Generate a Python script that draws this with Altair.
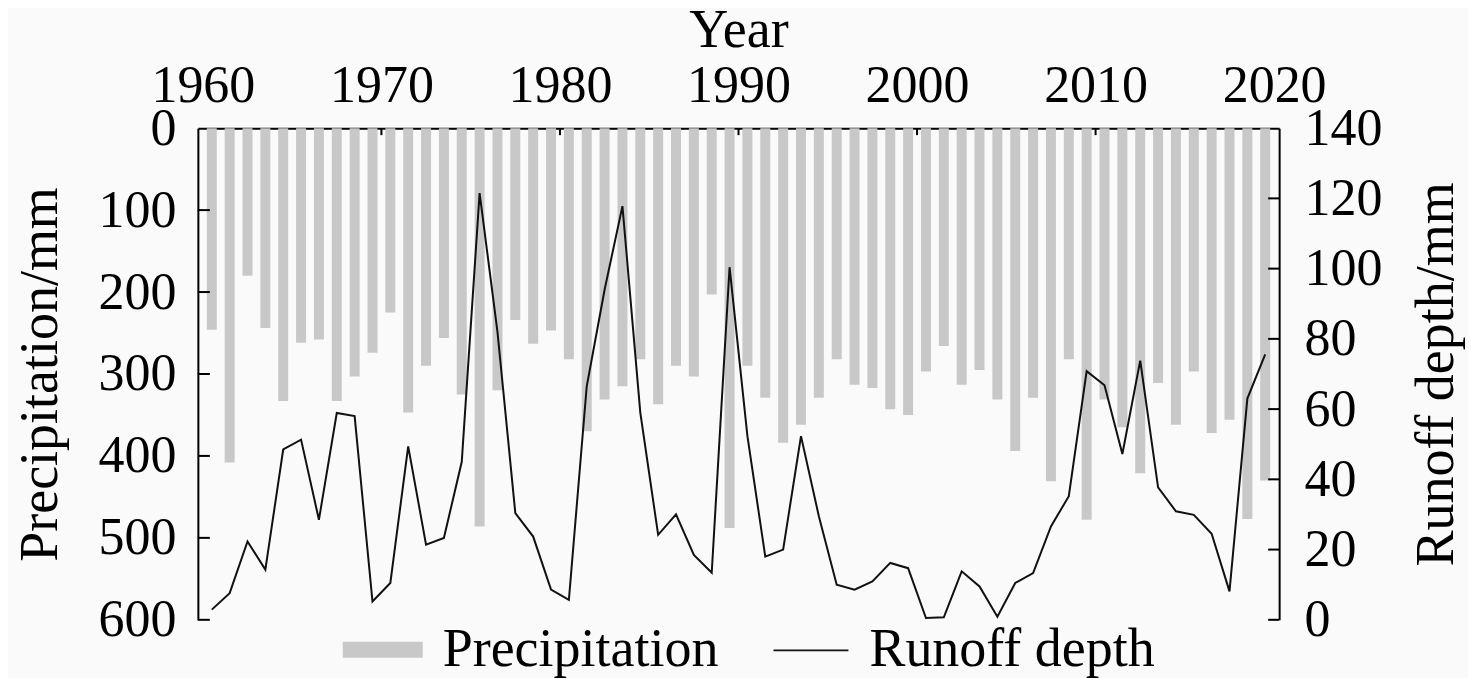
import altair as alt
import pandas as pd

years = list(range(1960, 2020))
precipitation = [246, 408, 180, 244, 333, 262, 258, 333, 303, 274,
                 225, 347, 290, 256, 325, 486, 320, 234, 263, 247,
                 282, 370, 331, 315, 282, 337, 290, 303, 203, 488,
                 290, 329, 384, 362, 329, 282, 313, 317, 343, 350,
                 297, 266, 313, 295, 331, 394, 329, 431, 282, 478,
                 331, 365, 421, 311, 362, 297, 372, 356, 477, 430]
runoff = [2.9, 7.6, 22.3, 14.3, 48.5, 51.3, 28.5, 58.9, 58.0, 5.2,
          10.5, 49.4, 21.4, 23.3, 45.0, 121.5, 82.0, 30.4, 23.7, 8.6,
          5.7, 66.5, 94.0, 117.8, 59.0, 24.2, 30.0, 18.5, 13.4, 100.4,
          52.3, 18.0, 20.0, 52.3, 29.5, 10.0, 8.6, 10.9, 16.2, 14.7,
          0.5, 0.7, 13.8, 9.5, 0.9, 10.5, 13.3, 26.6, 35.2, 70.8,
          66.8, 47.2, 73.8, 37.7, 30.9, 29.9, 24.5, 8.1, 63.0, 75.6]
x_ticks = [1960, 1970, 1980, 1990, 2000, 2010, 2020]
top_inner_ticks = [1970, 1980, 1990, 2000, 2010]
left_ticks = [0, 100, 200, 300, 400, 500, 600]
left_inner_ticks = [100, 200, 300, 400, 500, 600]
right_ticks = [0, 20, 40, 60, 80, 100, 120, 140]
right_inner_ticks = [0, 20, 40, 60, 80, 100, 120]

W, H = 1082, 492
FONT = "Liberation Serif"

df = pd.DataFrame({
    "xpos": [y + 0.5 for y in years],
    "precip": precipitation,
    "runoff": runoff,
    "p": ["Precipitation"] * len(years),
    "r": ["Runoff depth"] * len(years),
})

xscale = alt.Scale(domain=[1960, 2020], nice=False, zero=False)
pscale = alt.Scale(domain=[0, 600], reverse=True, nice=False)
rscale = alt.Scale(domain=[0, 140], nice=False)

xenc = alt.X("xpos:Q", scale=xscale,
             axis=alt.Axis(orient="top", values=x_ticks, format="d", title="Year",
                           labelPadding=16, titlePadding=2))

bars = alt.Chart(df).mark_bar(size=10).encode(
    x=xenc,
    y=alt.Y("precip:Q", scale=pscale,
            axis=alt.Axis(orient="left", values=left_ticks, title="Precipitation/mm",
                          labelPadding=22, titlePadding=30)),
    fill=alt.Fill("p:N", scale=alt.Scale(domain=["Precipitation"], range=["#c8c8c8"]),
                  legend=alt.Legend(title=None, orient="none", legendX=145, legendY=482,
                                    symbolType="M-1,-0.2H1V0.2H-1Z", symbolSize=6400,
                                    symbolStrokeWidth=0, labelOffset=20, padding=0)),
)

line = alt.Chart(df).mark_line(strokeWidth=2).encode(
    x=xenc,
    y=alt.Y("runoff:Q", scale=rscale,
            axis=alt.Axis(orient="right", values=right_ticks, title="Runoff depth/mm",
                          titleAngle=270, titleBaseline="top",
                          labelPadding=25, titlePadding=27)),
    stroke=alt.Stroke("r:N", scale=alt.Scale(domain=["Runoff depth"], range=["#111111"]),
                      legend=alt.Legend(title=None, orient="none", legendX=575, legendY=484,
                                        symbolType="stroke", symbolSize=5625,
                                        symbolStrokeWidth=1.8, labelOffset=20, padding=0)),
)

top_t = alt.Chart(pd.DataFrame({"xpos": top_inner_ticks})).mark_rule(
    color="black", strokeWidth=2).encode(x=xenc, y=alt.value(0), y2=alt.value(7))

left_t = alt.Chart(pd.DataFrame({"v": left_inner_ticks})).mark_rule(
    color="black", strokeWidth=2).encode(
    y=alt.Y("v:Q", scale=pscale, axis=None), x=alt.value(0), x2=alt.value(12))

right_t = alt.Chart(pd.DataFrame({"v": right_inner_ticks})).mark_rule(
    color="black", strokeWidth=2).encode(
    y=alt.Y("v:Q", scale=rscale, axis=None), x=alt.value(W - 11), x2=alt.value(W))

chart = alt.layer(bars, line, top_t, left_t, right_t).resolve_scale(
    y="independent"
).properties(
    width=W, height=H,
    padding={"left": 6, "top": -5, "right": 5, "bottom": 0},
    background="#fafafa",
).configure_view(stroke=None).configure_axis(
    labelFont=FONT, labelFontSize=52, labelColor="black",
    titleFont=FONT, titleFontSize=54, titleFontWeight="normal", titleColor="black",
    domainColor="black", domainWidth=2, ticks=False, tickSize=0, grid=False,
    labelFlush=False, labelOverlap=False,
).configure_legend(
    labelFont=FONT, labelFontSize=54, labelColor="black", labelLimit=0,
)

chart.save("out.html", embed_options={"renderer": "svg", "actions": False})
